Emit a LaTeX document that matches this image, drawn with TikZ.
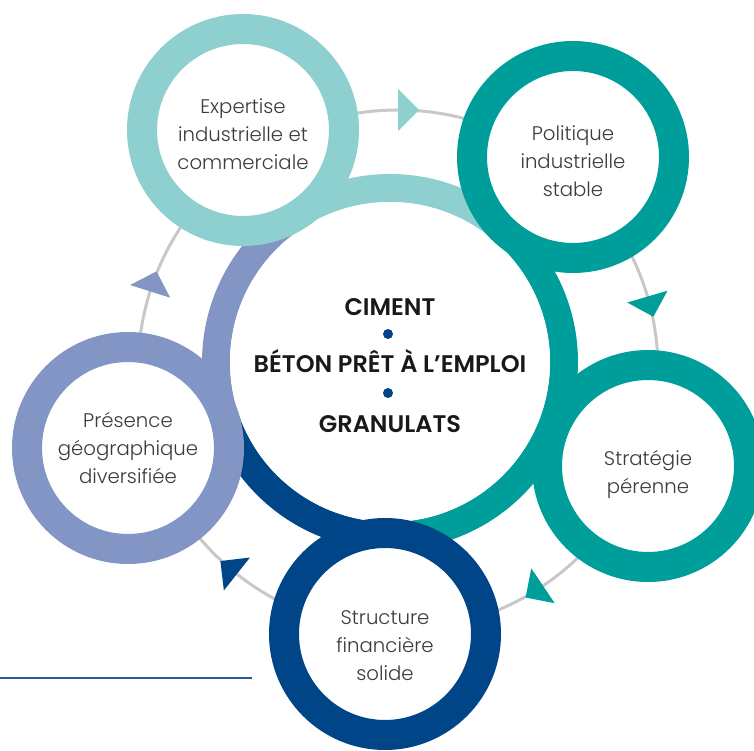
\documentclass[tikz,border=0pt]{standalone}
\usepackage{fontspec}
\newfontfamily\satfont{Poppins}[UprightFont={* Light}]
\newfontfamily\corefont{Poppins}[UprightFont={* SemiBold}]
\definecolor{lteal}{RGB}{142,207,208}
\definecolor{tealmain}{RGB}{0,158,155}
\definecolor{navymain}{RGB}{0,69,135}
\definecolor{lavmain}{RGB}{131,149,197}
\definecolor{orbitgray}{RGB}{200,200,200}
\definecolor{txtgray}{RGB}{60,60,60}
\definecolor{rulecol}{RGB}{40,90,160}
\tikzset{
  sat/.style={circle, fill=white, line width=30, minimum size=202, inner sep=0},
  sattext/.style={align=center, text=txtgray, inner sep=0,
    font=\satfont\fontsize{19.7}{28}\selectfont},
  coreline/.style={anchor=base, text=black!90, font=\corefont\fontsize{24}{28}\selectfont},
  coredot/.style={circle, fill=navymain, minimum size=10, inner sep=0},
  ringseg/.style={line width=28}
}
% arrow head sitting on the orbit: #1 = angle, #2 = colour
\newcommand\orbitarrow[2]{%
  \begin{scope}[shift={(orb)}, rotate=#1]
    \fill[#2] (239,0) -- (281,0) -- (260,-21) -- cycle;
  \end{scope}}
\begin{document}
\begin{tikzpicture}[x=1pt,y=1pt]
\useasboundingbox (0,0) rectangle (754,750);
\coordinate (orb) at (398,380);
\coordinate (ctr) at (390,388);

% grey orbit with its direction markers
\draw[orbitgray, line width=3] (orb) circle (260);
\orbitarrow{90}{lteal}
\orbitarrow{16.4}{tealmain}
\orbitarrow{-56.1}{tealmain}
\orbitarrow{231.7}{navymain}
\orbitarrow{162.4}{lavmain}

% central ring, one colour per sector
\draw[ringseg, lteal]    (ctr) ++(48.2:174)  arc[start angle=48.2,  end angle=122.4, radius=174];
\draw[ringseg, lavmain]  (ctr) ++(122.4:174) arc[start angle=122.4, end angle=198.2, radius=174];
\draw[ringseg, navymain] (ctr) ++(198.2:174) arc[start angle=198.2, end angle=269,   radius=174];
\draw[ringseg, tealmain] (ctr) ++(-91:174)   arc[start angle=-91,   end angle=48.2,  radius=174];
\node[circle, fill=white, minimum size=320, inner sep=0] (core) at (ctr) {};

% central labels
\node[coreline] (ciment)   at (390,434) {CIMENT};
\node[coredot]  (dotA)     at (388,416) {};
\node[coreline] (beton)    at (390,377) {BÉTON PRÊT À L’EMPLOI};
\node[coredot]  (dotB)     at (388,357) {};
\node[coreline] (granulat) at (390,317) {GRANULATS};

% satellites
\node[sat, draw=lteal]    (expertise) at (243,620) {};
\node[sat, draw=tealmain] (politique) at (573,593) {};
\node[sat, draw=tealmain] (strategie) at (648,284) {};
\node[sat, draw=navymain] (structure) at (385,116) {};
\node[sat, draw=lavmain]  (presence)  at (128,302) {};

\node[sattext] (expertise-txt) at ([yshift=-4]expertise.center) {Expertise\\industrielle et\\commerciale};
\node[sattext] (politique-txt) at ([yshift=-4]politique.center) {Politique\\industrielle\\stable};
\node[sattext] (strategie-txt) at ([yshift=-8]strategie.center) {Stratégie\\pérenne};
\node[sattext] (structure-txt) at ([yshift=-12]structure.center) {Structure\\financière\\solide};
\node[sattext] (presence-txt)  at (presence.center) {Présence\\géographique\\diversifiée};

% rule at the lower left
\coordinate (ruleL) at (0,72);
\coordinate (ruleR) at (252,72);
\draw[rulecol, line width=1.5] (ruleL) -- (ruleR);
\end{tikzpicture}
\end{document}
